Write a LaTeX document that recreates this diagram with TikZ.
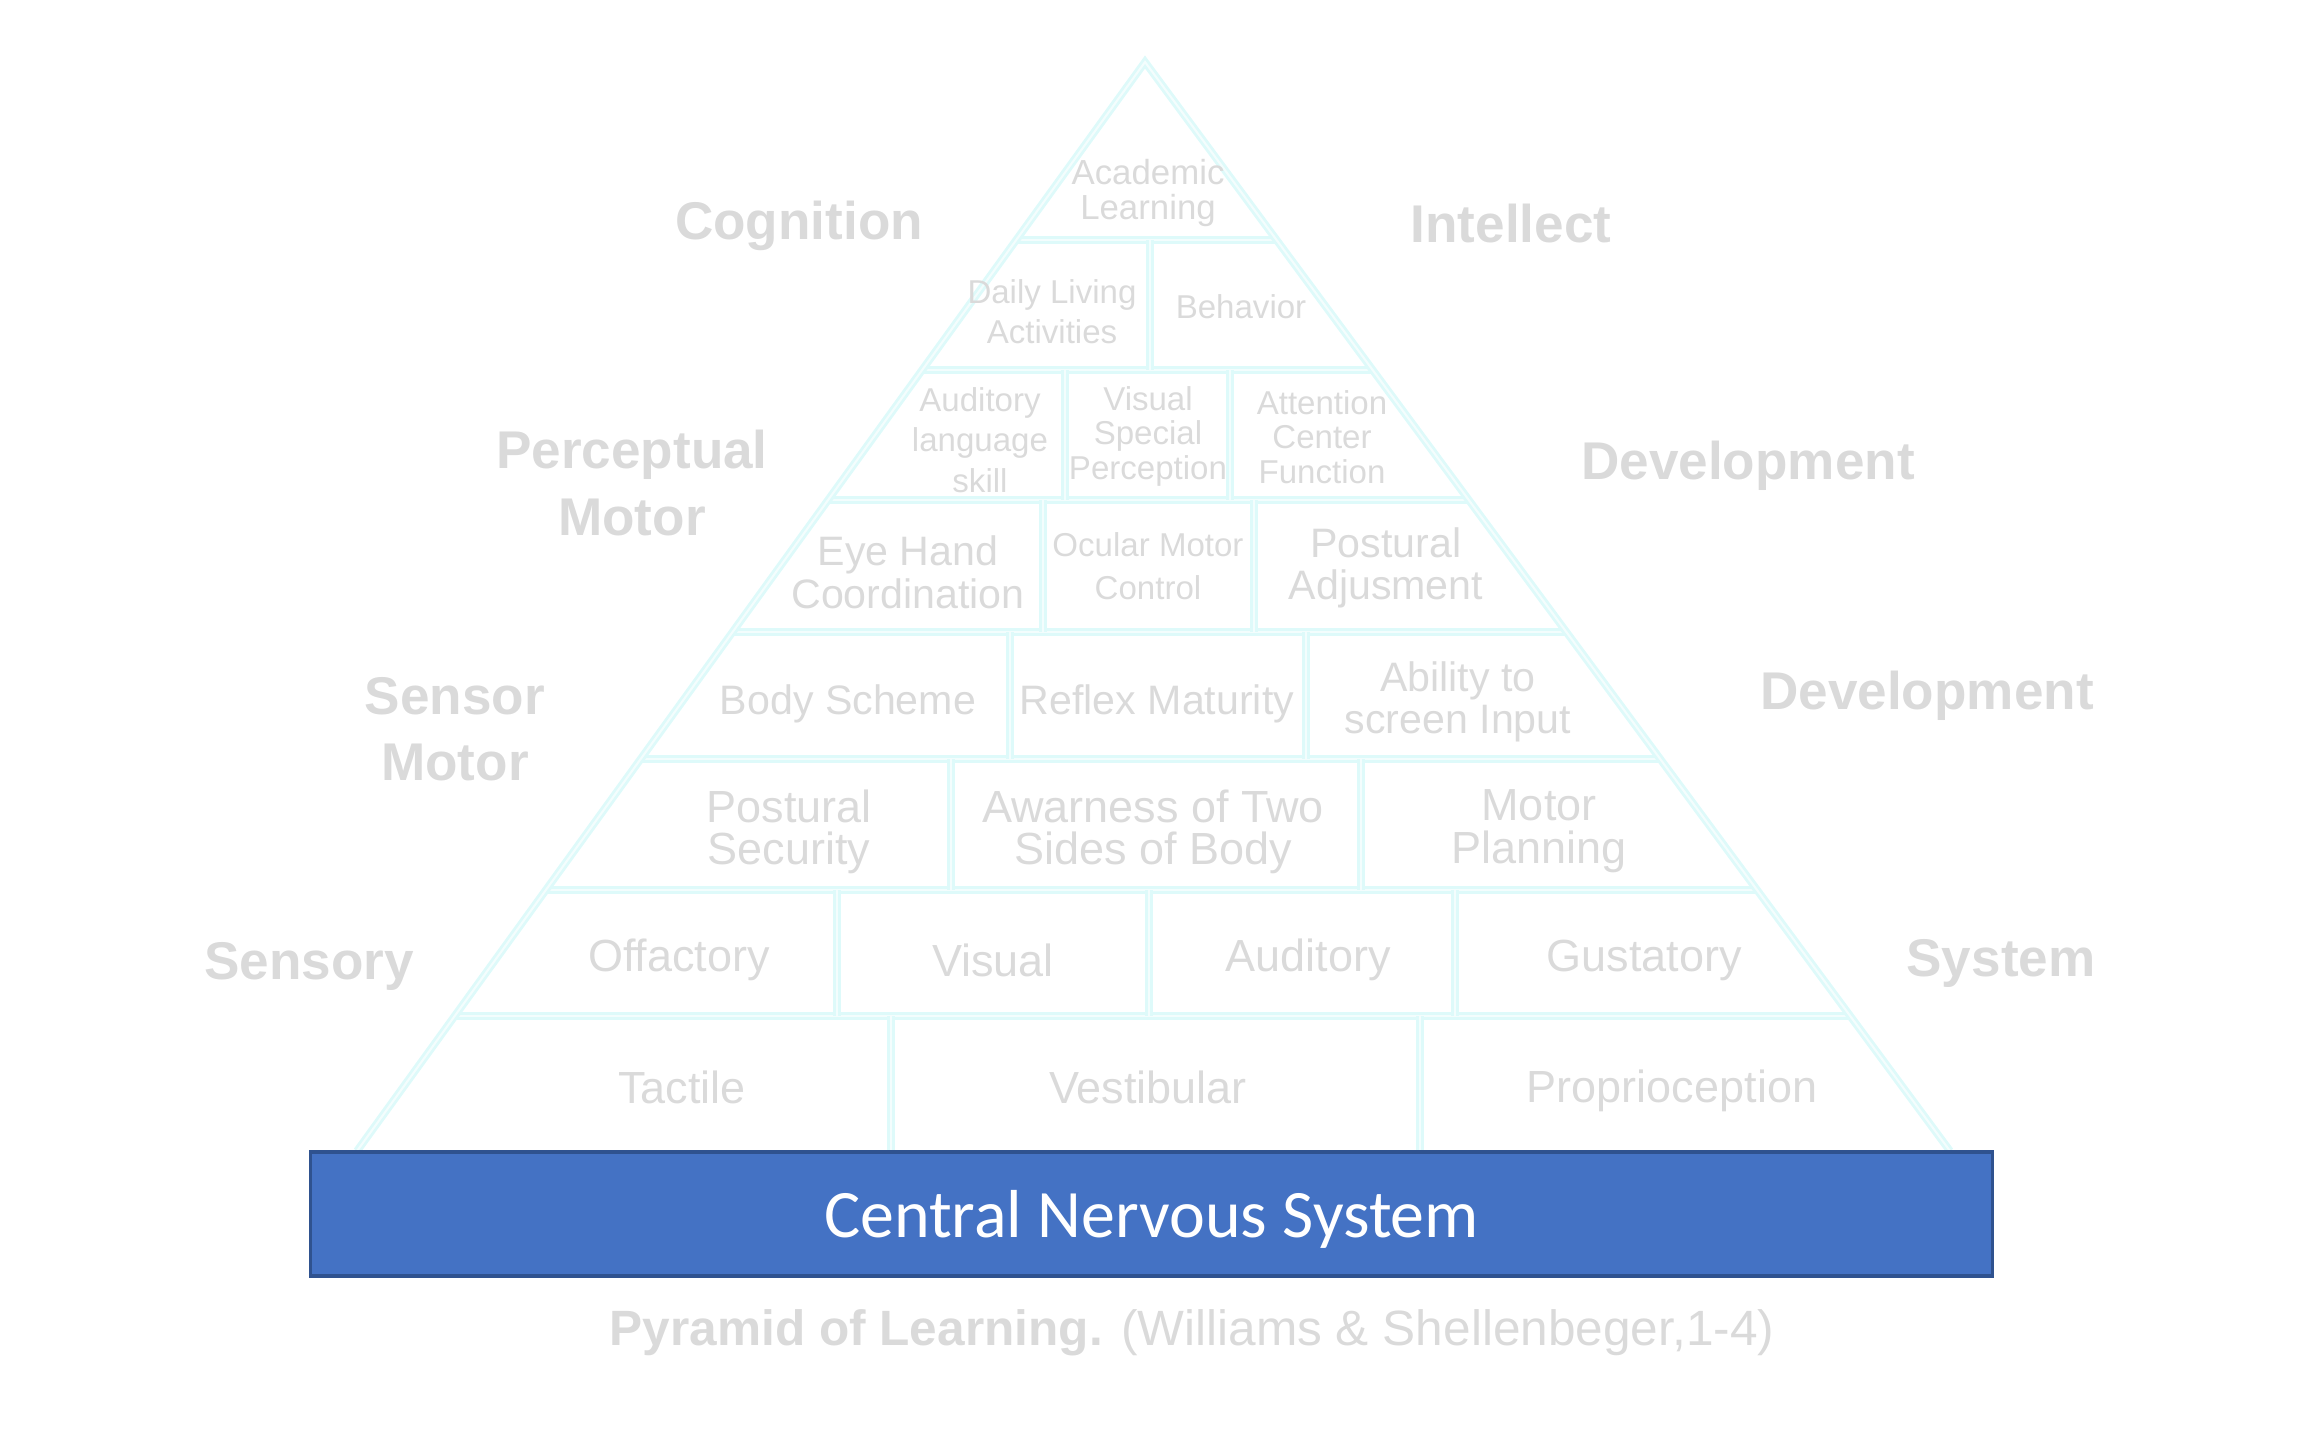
\documentclass[tikz,border=0pt]{standalone}
\usepackage{fontspec}
\setmainfont{Liberation Sans}
\newfontfamily\cnsfont{Carlito}
\usepackage{tikz}
\usetikzlibrary{positioning,calc}
\definecolor{labelgray}{RGB}{218,218,218}
\definecolor{edgecyan}{RGB}{222,250,250}
\definecolor{cnsblue}{RGB}{68,114,196}
\definecolor{cnsedge}{RGB}{47,82,143}

\begin{document}
\begin{tikzpicture}[x=0.01cm, y=-0.01cm,
        cell/.style={text=labelgray, align=center, inner sep=0pt, font=\fontsize{12.8}{12.1}\selectfont},
        midcell/.style={cell, font=\fontsize{11.7}{12.1}\selectfont},
        smallcell/.style={cell, font=\fontsize{9.4}{9.8}\selectfont},
        side/.style={text=labelgray, align=center, inner sep=0pt, font=\fontsize{15.1}{18.9}\selectfont\bfseries},
        sep/.style={draw=edgecyan, line width=0.8pt, double=edgecyan!35, double distance=0.6pt},
        cnsbar/.style={rectangle, draw=cnsedge, line width=1pt, fill=cnsblue, text=white, text depth=0pt, minimum width=16.81cm, minimum height=1.24cm, font=\cnsfont\fontsize{19.3}{23}\selectfont}]
    \useasboundingbox (0,0) rectangle (2300,1435);

    % pyramid
    \coordinate (apex) at (1145,62);
    \coordinate (bl) at (357,1151);
    \coordinate (br) at (1950,1151);
    \begin{scope}
        \clip (apex) -- (bl) -- (br) -- cycle;
        \foreach \y in {240,370,500,632,759,890,1016}
            \draw[sep] (300,\y) -- (2000,\y);
    \end{scope}
    \foreach \x/\ya/\yb in {1150/240/370, 1065/370/500, 1230/370/500,
            1043/500/632, 1254/500/632, 1010/632/759, 1306/632/759,
            951/759/890, 1361/759/890, 837/890/1016, 1149/890/1016, 1455/890/1016,
            891/1016/1151, 1420/1016/1151}
        \draw[sep] (\x,\ya) -- (\x,\yb);
    \draw[sep] (bl) -- (apex) -- (br);

    % blocks
    \node[smallcell, font=\fontsize{9.9}{9.8}\selectfont] (acad) at (1148,193) {Academic\\Learning};
    \node[smallcell, font=\fontsize{9.4}{11.3}\selectfont] (daily) at (1052,312) {Daily Living\\Activities};
    \node[smallcell] (behav) at (1241,307) {Behavior};
    \node[smallcell, font=\fontsize{9.4}{11.6}\selectfont] (audlang) at (980,440) {Auditory\\language\\skill};
    \node[smallcell] (visspec) at (1148,436) {Visual\\Special\\Perception};
    \node[smallcell] (attn) at (1322,437) {Attention\\Center\\Function};
    \node[midcell] (eyehand) at (908,572) {Eye Hand\\Coordination};
    \node[smallcell, font=\fontsize{9.4}{12.1}\selectfont] (ocular) at (1148,566) {Ocular Motor\\Control};
    \node[midcell] (postadj) at (1386,568) {Postural\\Adjusment};
    \node[midcell] (bodysch) at (848,704) {Body Scheme};
    \node[midcell] (reflex) at (1157,704) {Reflex Maturity};
    \node[midcell] (ability) at (1458,702) {Ability to\\screen Input};
    \node[cell] (postsec) at (789,832) {Postural\\Security};
    \node[cell] (twosides) at (1153,832) {Awarness of Two\\Sides of Body};
    \node[cell] (motorplan) at (1539,831) {Motor\\Planning};
    \node[cell] (olf) at (679,960) {Offactory};
    \node[cell] (visual) at (993,960) {Visual};
    \node[cell] (auditory) at (1308,960) {Auditory};
    \node[cell] (gust) at (1644,960) {Gustatory};
    \node[cell] (tactile) at (682,1087) {Tactile};
    \node[cell] (vestib) at (1148,1087) {Vestibular};
    \node[cell] (propr) at (1672,1091) {Proprioception};

    % side labels
    \node[side] (cogn) at (799,226) {Cognition};
    \node[side] (intel) at (1511,224) {Intellect};
    \node[side] (percmot) at (632,483) {Perceptual\\Motor};
    \node[side] (devup) at (1748,466) {Development};
    \node[side] (sensmot) at (455,729) {Sensor\\Motor};
    \node[side] (devlow) at (1927,696) {Development};
    \node[side] (sensory) at (309,966) {Sensory};
    \node[side] (system) at (2001,963) {System};

    \node[cnsbar] (cns) at (1151.5,1214) {Central Nervous System};
    \node[text=labelgray, inner sep=0pt, font=\fontsize{14.1}{16}\selectfont] (caption) at (1192,1333)
        {\textbf{Pyramid of Learning.} (Williams \& Shellenbeger,1-4)};
\end{tikzpicture}
\end{document}
